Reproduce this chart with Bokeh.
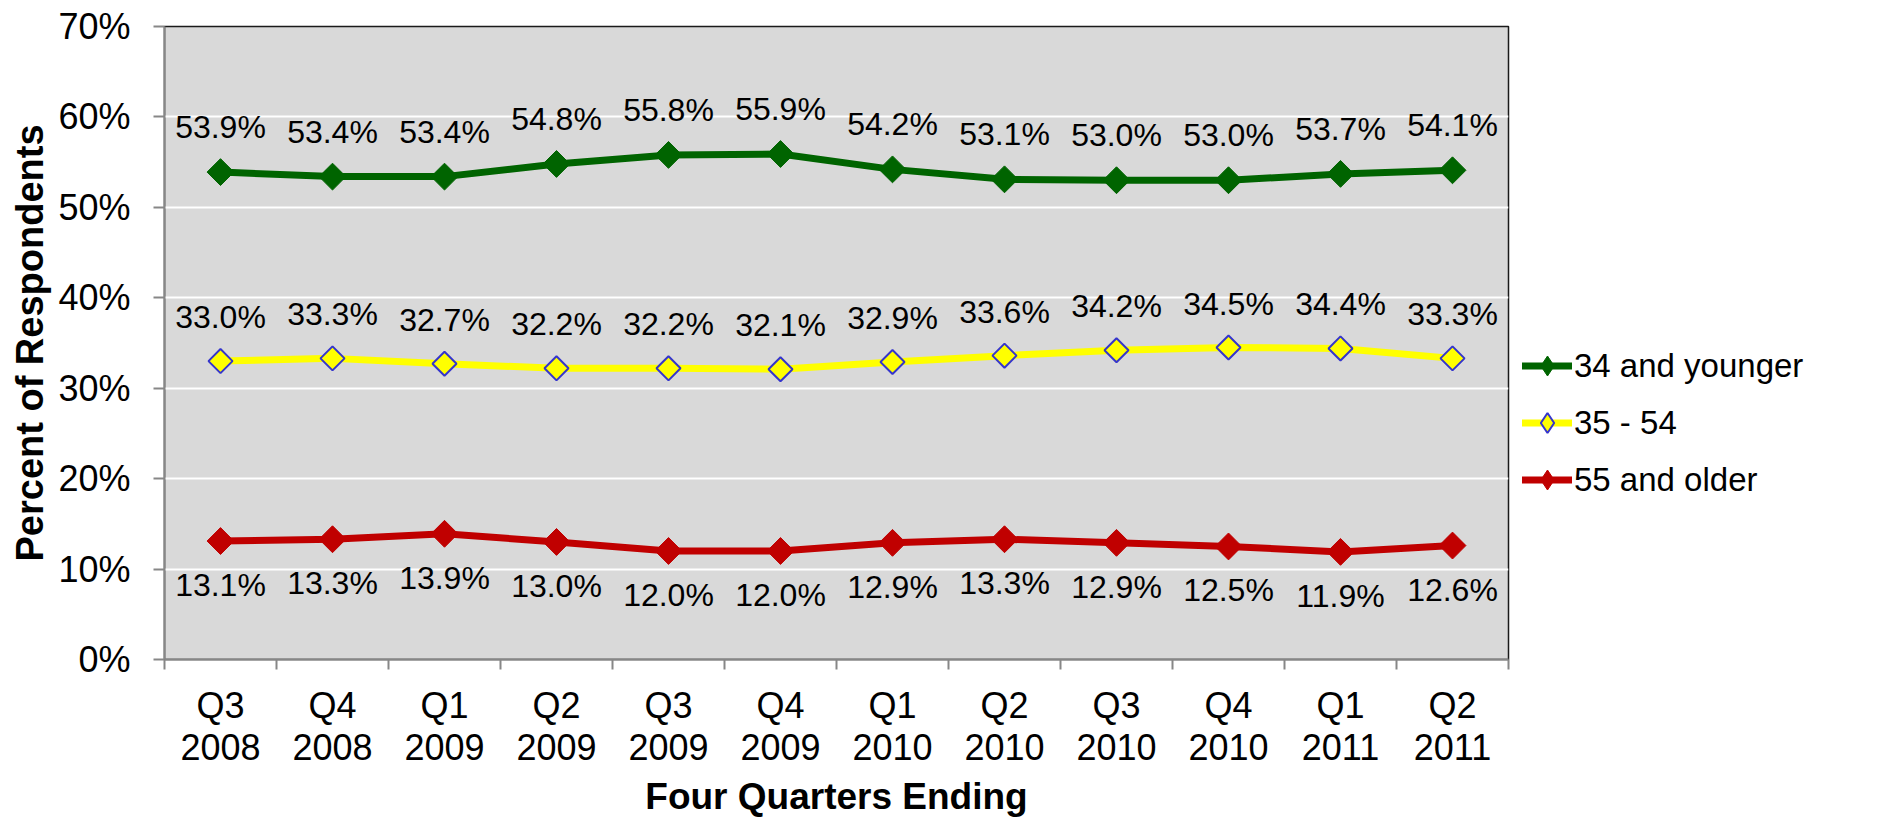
import numpy as np
from bokeh.plotting import figure
from bokeh.layouts import row
from bokeh.models import (FixedTicker, Range1d, Legend, LegendItem, LinearAxis,
                          ColumnDataSource, PrintfTickFormatter)
from bokeh.core.properties import value
from bokeh.embed import file_html
from bokeh.resources import INLINE

# ---------------- data ----------------
quarters = ["Q3", "Q4", "Q1", "Q2", "Q3", "Q4", "Q1", "Q2", "Q3", "Q4", "Q1", "Q2"]
years = ["2008", "2008", "2009", "2009", "2009", "2009",
         "2010", "2010", "2010", "2010", "2011", "2011"]
young = [53.9, 53.4, 53.4, 54.8, 55.8, 55.9, 54.2, 53.1, 53.0, 53.0, 53.7, 54.1]
middle = [33.0, 33.3, 32.7, 32.2, 32.2, 32.1, 32.9, 33.6, 34.2, 34.5, 34.4, 33.3]
older = [13.1, 13.3, 13.9, 13.0, 12.0, 12.0, 12.9, 13.3, 12.9, 12.5, 11.9, 12.6]
series_names = ["34 and younger", "35 - 54", "55 and older"]
y_ticks = [0, 10, 20, 30, 40, 50, 60, 70]

FONT = "Liberation Sans"

n = len(quarters)
xpos = np.arange(n) + 0.5

p = figure(width=1512, height=819, output_backend="svg", toolbar_location=None,
           x_range=Range1d(0, n), y_range=Range1d(0, 70),
           x_axis_location=None,
           min_border_left=164, min_border_right=4,
           min_border_top=26, min_border_bottom=158)

p.background_fill_color = "#D9D9D9"
p.border_fill_color = "white"
p.outline_line_color = "#1a1a1a"
p.outline_line_width = 1.5

# grid
p.xgrid.visible = False
p.ygrid.ticker = FixedTicker(ticks=y_ticks)
p.ygrid.grid_line_color = "white"
p.ygrid.grid_line_width = 2

# y axis
yax = p.yaxis[0]
yax.ticker = FixedTicker(ticks=y_ticks)
yax.formatter = PrintfTickFormatter(format="%d%%")
yax.axis_line_color = "#878787"
yax.axis_line_width = 2
yax.major_tick_line_color = "#878787"
yax.major_tick_line_width = 2
yax.major_tick_out = 11
yax.major_tick_in = 0
yax.minor_tick_line_color = None
yax.major_label_standoff = 23
yax.major_label_text_font = FONT
yax.major_label_text_font_size = "36px"
yax.major_label_text_color = "black"
yax.axis_label = "Percent of Respondents"
yax.axis_label_text_font = FONT
yax.axis_label_text_font_style = "bold"
yax.axis_label_text_font_size = "38px"
yax.axis_label_text_color = "black"
yax.axis_label_standoff = 4

# x axis: quarter row (with category-boundary ticks)
xax = LinearAxis(ticker=FixedTicker(ticks=list(xpos), minor_ticks=list(range(n + 1))))
xax.major_label_overrides = {float(xv): q for xv, q in zip(xpos, quarters)}
xax.axis_line_color = "#878787"
xax.axis_line_width = 2
xax.major_tick_line_color = None
xax.major_tick_out = 10
xax.major_tick_in = 0
xax.minor_tick_line_color = "#878787"
xax.minor_tick_line_width = 2
xax.minor_tick_out = 10
xax.minor_tick_in = 0
xax.major_label_standoff = 15
xax.major_label_text_font = FONT
xax.major_label_text_font_size = "36px"
xax.major_label_text_color = "black"
p.add_layout(xax, "below")

# x axis: year row + title
xax2 = LinearAxis(ticker=FixedTicker(ticks=list(xpos)))
xax2.major_label_overrides = {float(xv): y for xv, y in zip(xpos, years)}
xax2.axis_line_color = None
xax2.major_tick_line_color = None
xax2.minor_tick_line_color = None
xax2.major_tick_out = 0
xax2.major_tick_in = 0
xax2.minor_tick_out = 0
xax2.minor_tick_in = 0
xax2.major_label_standoff = 5
xax2.major_label_text_font = FONT
xax2.major_label_text_font_size = "36px"
xax2.major_label_text_color = "black"
xax2.axis_label = "Four Quarters Ending"
xax2.axis_label_text_font = FONT
xax2.axis_label_text_font_style = "bold"
xax2.axis_label_text_font_size = "37px"
xax2.axis_label_text_color = "black"
xax2.axis_label_standoff = 13
p.add_layout(xax2, "below")

styles = [
    dict(vals=young, color="#006400", mline="#006400", mlw=1, size=19, off=-45),
    dict(vals=middle, color="#FFFF00", mline="#3535CC", mlw=2, size=17, off=-44),
    dict(vals=older, color="#C00000", mline="#C00000", mlw=1, size=19, off=44),
]

# legend panel as its own small figure to the right of the chart
p2 = figure(width=376, height=819, output_backend="svg", toolbar_location=None,
            x_range=Range1d(0, 1), y_range=Range1d(0, 1),
            x_axis_location=None, y_axis_location=None, min_border=0)
p2.grid.visible = False
p2.outline_line_color = None
p2.background_fill_color = "white"
p2.border_fill_color = "white"

items = []
for name, st in zip(series_names, styles):
    src = ColumnDataSource(dict(x=xpos, y=st["vals"],
                                lab=[f"{v:.1f}%" for v in st["vals"]]))
    p.line("x", "y", source=src, line_color=st["color"], line_width=7,
           line_cap="round", line_join="round")
    p.scatter("x", "y", source=src, marker="square", angle=np.pi / 4,
              size=st["size"], fill_color=st["color"],
              line_color=st["mline"], line_width=st["mlw"])
    p.text("x", "y", text="lab", source=src, y_offset=st["off"],
           text_align="center", text_baseline="middle",
           text_font=value(FONT), text_font_size="32px", text_color="black")
    # legend keys (their points sit outside the legend figure's visible range)
    kl = p2.line(x=[-10, -9], y=[-10, -10], line_color=st["color"], line_width=7,
                 line_cap="round")
    km = p2.scatter(x=[-10], y=[-10], marker="diamond", fill_color=st["color"],
                    line_color=st["mline"], line_width=st["mlw"])
    items.append(LegendItem(label=name, renderers=[kl, km]))

legend = Legend(items=items, location=(10, 151), orientation="vertical",
                label_text_font=FONT, label_text_font_size="33px",
                label_text_color="black",
                glyph_width=50, glyph_height=57, label_height=57,
                spacing=0, padding=0, margin=0, label_standoff=2,
                border_line_color=None, background_fill_alpha=0)
p2.add_layout(legend)

open("out.html", "w").write(file_html(row(p, p2), INLINE))
